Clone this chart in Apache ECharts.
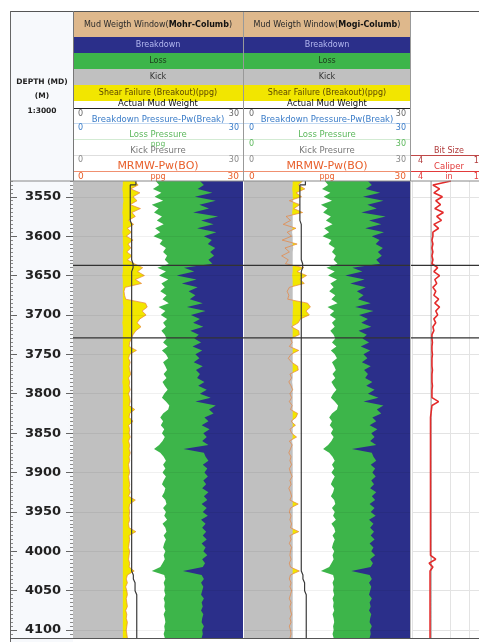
<!DOCTYPE html>
<html><head><meta charset="utf-8">
<script src="https://cdn.jsdelivr.net/npm/echarts@6/dist/echarts.min.js"></script>
<style>html,body{margin:0;padding:0;background:#fff}#c{width:479px;height:642px}</style>
</head><body><div id="c"></div>
<script>
// ---------------- DATA ----------------
const DEPTH = [
3530,3535,3540,3545,3550,3555,3560,3565,3570,3575,
3580,3585,3590,3595,3600,3605,3610,3615,3620,3625,
3630,3635,3640,3645,3650,3655,3660,3665,3670,3675,
3680,3685,3690,3695,3700,3705,3710,3715,3720,3725,
3730,3735,3740,3745,3750,3755,3760,3765,3770,3775,
3780,3785,3790,3795,3800,3805,3810,3815,3820,3825,
3830,3835,3840,3845,3850,3855,3860,3865,3870,3875,
3880,3885,3890,3895,3900,3905,3910,3915,3920,3925,
3930,3935,3940,3945,3950,3955,3960,3965,3970,3975,
3980,3985,3990,3995,4000,4005,4010,4015,4020,4025,
4030,4035,4040,4045,4050,4055,4060,4065,4070,4075,
4080,4085,4090,4095,4100,4105,4110];

// Loss pressure (ppg)
const LOSS = [
14.6,15.2,14.1,15.6,14.4,15.9,13.9,15.1,14.3,15.7,
14.8,16.0,14.5,15.4,14.2,15.8,15.3,16.4,15.9,16.6,
16.2,16.9,14.9,16.4,15.2,16.8,15.6,16.2,15.4,16.5,
15.8,16.9,15.1,16.3,15.5,16.6,15.9,16.4,15.6,16.2,
16.5,15.9,16.7,15.7,16.4,16.8,15.9,16.3,16.6,16.0,
16.5,15.8,16.2,16.7,16.1,15.7,16.4,17.0,16.8,15.9,
15.4,15.9,15.5,16.1,15.7,16.2,15.8,15.2,14.3,15.4,
16.0,16.4,15.9,16.3,15.8,16.4,16.0,15.7,16.3,16.1,
15.7,16.3,16.5,15.9,16.4,16.1,16.6,15.8,16.3,16.5,
16.0,16.4,16.1,15.9,16.3,16.0,16.2,15.8,15.4,13.9,
16.1,16.3,16.0,16.2,16.1,16.3,16.0,16.2,16.1,16.3,
16.0,16.2,16.3,16.1,16.2,16.0,16.2];

// Breakdown pressure (ppg)
const BREAKDOWN = [
22.4,23.1,22.0,24.6,21.5,25.2,22.3,24.0,21.2,25.6,
22.6,24.8,21.9,25.3,23.1,24.5,23.8,25.1,24.2,24.9,
23.9,24.6,19.6,21.4,18.3,21.8,19.2,22.0,20.4,21.6,
20.6,22.9,20.1,23.4,20.8,22.4,21.2,23.0,20.7,22.2,
21.4,22.6,21.1,22.8,21.6,22.3,21.3,22.9,21.7,22.4,
21.9,23.2,22.1,23.6,22.4,24.3,21.6,25.2,24.0,24.8,
23.2,23.9,22.7,24.1,23.0,23.6,22.8,23.9,19.5,23.1,
23.4,23.9,22.9,23.7,23.2,23.8,23.0,23.5,22.8,23.9,
23.1,23.7,22.7,23.6,22.9,23.8,22.6,23.4,22.8,23.5,
22.9,23.6,22.7,23.4,23.0,23.7,22.8,23.3,22.9,19.4,
22.7,23.1,22.6,23.0,22.8,22.6,23.1,22.7,22.9,22.6,
23.0,22.8,22.7,23.1,22.8,22.9,22.7];

// Kick pressure (ppg)
const KICK = [
8.8,8.8,8.7,8.8,8.8,8.9,8.8,8.8,8.7,8.8,
8.8,8.8,8.8,8.7,8.8,8.8,8.8,8.9,8.8,8.8,
8.8,8.8,8.8,8.8,8.7,8.8,8.8,8.8,8.8,8.8,
8.8,8.8,8.9,8.8,8.8,8.8,8.7,8.8,8.8,8.8,
8.8,8.8,8.8,8.8,8.8,8.8,8.8,8.8,8.8,8.8,
8.8,8.7,8.8,8.8,8.8,8.8,8.8,8.8,8.8,8.8,
8.8,8.8,8.8,8.8,8.8,8.8,8.7,8.8,8.8,8.8,
8.8,8.8,8.8,8.8,8.8,8.8,8.8,8.8,8.8,8.8,
8.8,8.8,8.8,8.8,8.8,8.8,8.8,8.8,8.8,8.8,
8.8,8.8,8.8,8.8,8.8,8.8,8.8,8.8,8.8,8.8,
8.8,8.8,8.8,8.8,8.8,8.8,8.8,8.8,8.8,8.8,
8.8,8.8,8.8,8.8,8.8,8.8,8.8];

// Shear failure (breakout) MRMW-Pw(BO), Mohr-Coulomb (ppg)
const BREAKOUT_MOHR = [
10.8,11.5,10.2,11.8,10.6,11.3,10.1,11.9,10.4,11.0,
9.8,10.7,9.6,10.3,9.4,10.6,9.7,10.2,9.5,10.4,
9.6,10.8,12.3,11.4,12.6,11.0,12.1,9.2,9.0,9.1,
9.3,12.8,13.1,12.2,12.9,11.8,11.3,12.0,11.1,10.6,
10.3,10.0,9.9,11.2,10.0,9.8,10.1,9.9,10.0,10.2,
9.8,10.0,9.9,10.1,9.8,10.0,10.1,9.9,10.9,10.0,
9.9,10.6,9.8,10.0,9.9,10.1,9.8,10.0,9.9,10.1,
9.9,10.0,9.8,9.9,10.0,9.8,9.9,10.0,9.9,10.1,
9.8,11.0,10.0,9.9,10.0,9.9,10.0,9.8,9.9,11.1,
9.9,10.0,9.9,9.8,10.0,9.9,9.8,10.0,9.9,10.8,
9.6,9.4,9.6,9.3,9.5,9.6,9.4,9.5,9.6,9.3,
9.5,9.4,9.6,9.5,9.4,9.5,9.6];

// Shear failure (breakout) MRMW-Pw(BO), Mogi-Coulomb (ppg)
const BREAKOUT_MOGI = [
10.6,9.8,11.0,9.4,10.4,8.2,10.1,9.0,10.6,7.6,
8.4,7.1,9.4,7.8,8.6,6.9,9.6,7.4,8.2,6.8,
8.0,7.5,10.8,9.6,11.3,10.1,10.9,8.2,7.8,8.1,
7.9,11.5,12.0,11.2,11.8,10.2,9.8,8.6,9.9,10.0,
8.4,8.7,8.2,9.9,8.5,8.0,8.6,9.7,9.8,8.3,
8.6,8.1,8.5,8.8,8.3,8.6,8.2,8.7,8.4,9.7,
9.4,8.5,9.3,8.3,8.6,9.5,8.2,8.7,8.4,8.1,
8.5,8.3,8.6,8.2,8.4,8.7,8.3,8.5,8.1,8.4,
8.6,8.3,9.8,8.4,8.2,8.5,8.3,8.6,8.4,9.9,
8.3,8.5,8.2,8.6,8.4,8.3,8.5,8.2,8.4,10.0,
8.4,8.2,8.5,8.3,8.6,8.4,8.2,8.5,8.3,8.4,
8.6,8.3,8.5,8.2,8.4,8.5,8.3];

// Actual mud weight (ppg)
const MUD_WEIGHT = [
11.1,10.1,10.1,10.1,10.1,10.1,10.1,10.1,10.1,10.1,
10.35,10.35,10.35,10.35,10.35,10.35,10.35,10.35,10.35,10.35,
10.6,10.6,10.35,10.35,10.35,10.35,10.35,10.35,10.35,10.35,
10.35,10.35,10.35,10.35,10.35,10.35,10.35,10.35,10.35,10.35,
10.35,10.35,10.35,10.35,10.35,10.35,10.35,10.35,10.35,10.35,
10.35,10.35,10.35,10.35,10.35,10.35,10.35,10.35,10.35,10.35,
10.35,10.35,10.35,10.35,10.35,10.35,10.35,10.35,10.35,10.35,
10.35,10.35,10.35,10.35,10.35,10.35,10.35,10.35,10.35,10.35,
10.35,10.35,10.35,10.35,10.35,10.35,10.35,10.35,10.35,10.35,
10.35,10.35,10.35,10.35,10.35,10.35,10.35,10.35,10.35,10.65,
10.65,10.95,10.95,10.95,11.25,11.25,11.25,11.25,11.25,11.25,
11.25,11.25,11.25,11.25,11.25,11.25,11.25];

// Caliper (in)
const CALIPER = [
8.1,6.2,6.9,6.3,7.2,6.5,7.0,6.4,7.3,6.6,
7.1,6.3,6.8,6.2,6.2,6.1,6.2,6.1,6.2,6.1,
6.2,6.1,6.7,6.3,6.9,6.4,6.6,6.2,6.5,6.3,
6.8,6.4,6.9,6.5,6.7,6.3,6.5,6.2,6.3,6.1,
6.1,6.15,6.1,6.1,6.15,6.1,6.1,6.1,6.15,6.1,
6.1,6.1,6.15,6.1,6.1,6.1,6.8,6.1,6.05,6.0,
5.95,5.95,5.95,5.95,5.95,5.95,5.95,5.95,5.95,5.95,
5.95,5.95,5.95,5.95,5.95,5.95,5.95,5.95,5.95,5.95,
5.95,5.95,5.95,5.95,5.95,5.95,5.95,5.95,5.95,5.95,
5.95,5.95,5.95,5.95,5.95,5.95,6.5,5.8,6.2,5.9,
5.9,5.9,5.9,5.9,5.9,5.9,5.9,5.9,5.9,5.9,
5.9,5.9,5.9,5.9,5.9,5.9,5.9];

const BIT_SIZE = 6;
const ZONE_TOPS = [3637, 3729];
const PPG_RANGE = [0, 30];
const IN_RANGE = [4, 12];
const DEPTH_RANGE = [3530, 4110];

// ---------------- CHART ----------------
const chart = echarts.init(document.getElementById('c'), null, {renderer: 'canvas'});
const TOP = 181, H = 457;
const FF = '"DejaVu Sans"';
const C = {navy: '#2b2f8a', green: '#3db54a', gray: '#c0c0c0', yellow: '#f2e600', tan: '#deb88c',
  orange: '#e8843c', blue: '#3a7cc8', red: '#e32b2b'};
const is50 = (i, v) => Number(v) % 50 === 0;

const grids = [
  {left: 10, top: TOP, width: 63, height: H},
  {left: 73, top: TOP, width: 170, height: H, show: true, backgroundColor: C.navy, borderWidth: 0},
  {left: 244, top: TOP, width: 166, height: H, show: true, backgroundColor: C.navy, borderWidth: 0},
  {left: 412, top: TOP, width: 76, height: H, show: true, backgroundColor: '#fff', borderWidth: 0},
  {left: 73, top: TOP, width: 406, height: H}
].map(g => Object.assign({containLabel: false, outerBoundsMode: 'none'}, g));

const xAxis = [
  {gridIndex: 0, type: 'value', min: 0, max: 1, show: false},
  {gridIndex: 1, type: 'value', min: PPG_RANGE[0], max: PPG_RANGE[1], show: false},
  {gridIndex: 2, type: 'value', min: PPG_RANGE[0], max: PPG_RANGE[1], show: false},
  {gridIndex: 3, type: 'value', min: IN_RANGE[0], max: IN_RANGE[1], interval: 2,
    axisLine: {show: false}, axisTick: {show: false}, axisLabel: {show: false},
    splitLine: {show: true, lineStyle: {color: '#e3e3e3', width: 1}}},
  {gridIndex: 4, type: 'value', min: 0, max: 1, show: false}
];

const catBase = {type: 'category', data: DEPTH.map(String), inverse: true, boundaryGap: false};
const yAxis = [
  Object.assign({}, catBase, {gridIndex: 0, position: 'left',
    axisLine: {show: true, lineStyle: {color: '#8a8a8a'}},
    axisTick: {show: true, inside: true, length: 3, interval: 0, lineStyle: {color: '#8a8a8a'}},
    axisLabel: {show: false}, splitLine: {show: false}}),
  Object.assign({}, catBase, {gridIndex: 0, position: 'left',
    axisLine: {show: false},
    axisTick: {show: true, inside: true, length: 7, interval: is50, lineStyle: {color: '#666'}},
    axisLabel: {show: true, inside: true, interval: is50, align: 'center', margin: 33,
      fontFamily: 'DejaVu Sans', fontWeight: 'bold', fontSize: 13, color: '#222'},
    splitLine: {show: false}}),
  Object.assign({}, catBase, {gridIndex: 0, position: 'right',
    axisLine: {show: true, lineStyle: {color: '#8a8a8a'}},
    axisTick: {show: true, inside: true, length: 3, interval: 0, lineStyle: {color: '#8a8a8a'}},
    axisLabel: {show: false}, splitLine: {show: false}}),
  Object.assign({}, catBase, {gridIndex: 0, position: 'right',
    axisLine: {show: false},
    axisTick: {show: true, inside: true, length: 7, interval: is50, lineStyle: {color: '#666'}},
    axisLabel: {show: false}, splitLine: {show: false}}),
  Object.assign({}, catBase, {gridIndex: 1, z: 5, axisLine: {show: false}, axisTick: {show: false},
    axisLabel: {show: false}, splitLine: {show: true, interval: is50, lineStyle: {color: 'rgba(0,0,0,0.06)', width: 1}}}),
  Object.assign({}, catBase, {gridIndex: 2, z: 5, axisLine: {show: false}, axisTick: {show: false},
    axisLabel: {show: false}, splitLine: {show: true, interval: is50, lineStyle: {color: 'rgba(0,0,0,0.06)', width: 1}}}),
  Object.assign({}, catBase, {gridIndex: 3, axisLine: {show: false}, axisTick: {show: false},
    axisLabel: {show: false}, splitLine: {show: true, interval: is50, lineStyle: {color: '#e3e3e3', width: 1}}}),
  {gridIndex: 4, type: 'value', min: DEPTH_RANGE[0], max: DEPTH_RANGE[1], inverse: true, show: false}
];

function area(xi, yi, data, color) {
  return {type: 'line', xAxisIndex: xi, yAxisIndex: yi, data: data, symbol: 'none', silent: true,
    lineStyle: {width: 0, opacity: 0}, areaStyle: {color: color, opacity: 1, origin: 'start'}};
}
function curve(xi, yi, data, color, width, step) {
  const s = {type: 'line', xAxisIndex: xi, yAxisIndex: yi, data: data, symbol: 'none', silent: true,
    lineStyle: {width: width, color: color}};
  if (step) s.step = step;
  return s;
}
function trackSeries(xi, yi, breakout) {
  return [
    area(xi, yi, BREAKDOWN, C.green),
    area(xi, yi, LOSS, '#ffffff'),
    area(xi, yi, breakout, C.yellow),
    area(xi, yi, KICK, C.gray),
    curve(xi, yi, breakout, C.orange, 0.7),
    curve(xi, yi, MUD_WEIGHT, '#3a3a3a', 1.2, 'end')
  ];
}

const series = [].concat(
  trackSeries(1, 4, BREAKOUT_MOHR),
  trackSeries(2, 5, BREAKOUT_MOGI),
  [curve(3, 6, DEPTH.map(() => BIT_SIZE), '#8a8a8a', 0.8),
   curve(3, 6, CALIPER, C.red, 1.6)],
  ZONE_TOPS.map(d => ({type: 'line', xAxisIndex: 4, yAxisIndex: 7, data: [[0, d], [1, d]], symbol: 'none',
    silent: true, z: 10, lineStyle: {color: '#333', width: 1.3}}))
);

// ---------------- HEADER (graphics) ----------------
const G = [];
function rect(x, y, w, h, fill, z) { G.push({type: 'rect', z: z || 0, silent: true, shape: {x, y, width: w, height: h}, style: {fill}}); }
function line(x1, y1, x2, y2, stroke, w, z) { G.push({type: 'line', z: z || 50, silent: true, shape: {x1, y1, x2, y2}, style: {stroke, lineWidth: w}}); }
function text(x, y, t, fill, size, align, weight, extra) {
  G.push({type: 'text', z: 60, silent: true, x: x, y: y,
    style: Object.assign({text: t, fill: fill, font: (weight || 'normal') + ' ' + size + 'px ' + FF,
      textAlign: align || 'center', textVerticalAlign: 'middle'}, extra || {})});
}

rect(10, 11, 63, 631, '#f7f9fc', -10);
rect(411, 11, 68, 170, '#ffffff', -10);

text(42, 82, 'DEPTH (MD)', '#222', 7.5, 'center', 'bold');
text(42, 96, '(M)', '#222', 7.5, 'center', 'bold');
text(42, 111, '1:3000', '#222', 7.5, 'center', 'bold');

const TRACKS = [{x: 73, w: 170, name: 'Mohr-Columb', lossUnit: true}, {x: 244, w: 166, name: 'Mogi-Columb', lossUnit: false}];
TRACKS.forEach(t => {
  const cx = t.x + t.w / 2, lx = t.x + 5, rx = t.x + t.w - 4;
  rect(t.x, 12, t.w, 25, C.tan);
  rect(t.x, 37, t.w, 16, C.navy);
  rect(t.x, 53, t.w, 16, C.green);
  rect(t.x, 69, t.w, 16, C.gray);
  rect(t.x, 85, t.w, 16, C.yellow);
  text(cx, 25, 'Mud Weigth Window({b|' + t.name + '})', '#2a2a2a', 8, 'center', 'normal',
    {rich: {b: {font: 'bold 8px ' + FF, fill: '#111'}}});
  text(cx, 45, 'Breakdown', '#b3b8f0', 8);
  text(cx, 61, 'Loss', '#1d3a1d', 8);
  text(cx, 77, 'Kick', '#333', 8);
  text(cx, 93, 'Shear Failure (Breakout)(ppg)', '#5b4600', 8);
  text(cx, 103.5, 'Actual Mud Weight', '#111', 8.5);
  line(t.x, 108.5, t.x + t.w, 108.5, '#222', 1.2);
  text(lx, 113.5, '0', '#666', 8, 'left'); text(rx, 113.5, '30', '#666', 8, 'right');
  text(cx, 119.5, 'Breakdown Pressure-Pw(Break)', C.blue, 8.5);
  line(t.x, 123.5, t.x + t.w, 123.5, '#b5cfee', 0.8);
  text(lx, 128, '0', C.blue, 8, 'left'); text(rx, 128, '30', C.blue, 8, 'right');
  text(cx, 135, 'Loss Pressure', '#5cb85c', 8.5);
  line(t.x, 139.5, t.x + t.w, 139.5, '#c8e6c8', 0.8);
  if (t.lossUnit) text(cx, 144, 'ppg', '#5cb85c', 7.5);
  else { text(lx, 143.5, '0', '#5cb85c', 8, 'left'); text(rx, 143.5, '30', '#5cb85c', 8, 'right'); }
  text(cx, 151, 'Kick Presurre', '#777', 8.5);
  line(t.x, 155.5, t.x + t.w, 155.5, '#d6d6d6', 0.8);
  text(lx, 160, '0', '#888', 8, 'left'); text(rx, 160, '30', '#888', 8, 'right');
  text(cx, 166, 'MRMW-Pw(BO)', '#e8602c', 11);
  line(t.x, 171.5, t.x + t.w, 171.5, '#f09070', 1);
  text(lx, 176.5, '0', '#e8602c', 9, 'left'); text(rx, 176.5, '30', '#e8602c', 9, 'right');
  text(cx, 177, 'ppg', '#e8602c', 8);
});

// Track 3 header
text(449, 151, 'Bit Size', '#b03a3a', 8);
line(411, 155.5, 479, 155.5, '#c04848', 1);
text(418, 160.5, '4', '#b03a3a', 8, 'left'); text(484, 160.5, '12', '#b03a3a', 8, 'right');
text(449, 167, 'Caliper', '#e23a3a', 8.5);
line(411, 171.5, 479, 171.5, '#e23a3a', 1.2);
text(418, 176.5, '4', '#e23a3a', 8, 'left'); text(449, 177, 'in', '#e23a3a', 8); text(484, 176.5, '12', '#e23a3a', 8, 'right');

// frame lines
line(10, 11.5, 479, 11.5, '#555', 1, 80);
line(10.5, 11, 10.5, 642, '#666', 1, 80);
line(73.5, 11, 73.5, 181, '#777', 1, 80);
line(243.5, 12, 243.5, 181, '#999', 1, 80);
line(410.5, 12, 410.5, 181, '#999', 1, 80);
line(10, 181, 479, 181, '#888', 1, 80);
line(410.5, 181, 410.5, 638, '#bbb', 1, 80);
line(10, 638.5, 479, 638.5, '#555', 1, 80);

chart.setOption({
  animation: false,
  backgroundColor: '#ffffff',
  grid: grids,
  xAxis: xAxis,
  yAxis: yAxis,
  series: series,
  graphic: {elements: G}
});
</script>
</body></html>
